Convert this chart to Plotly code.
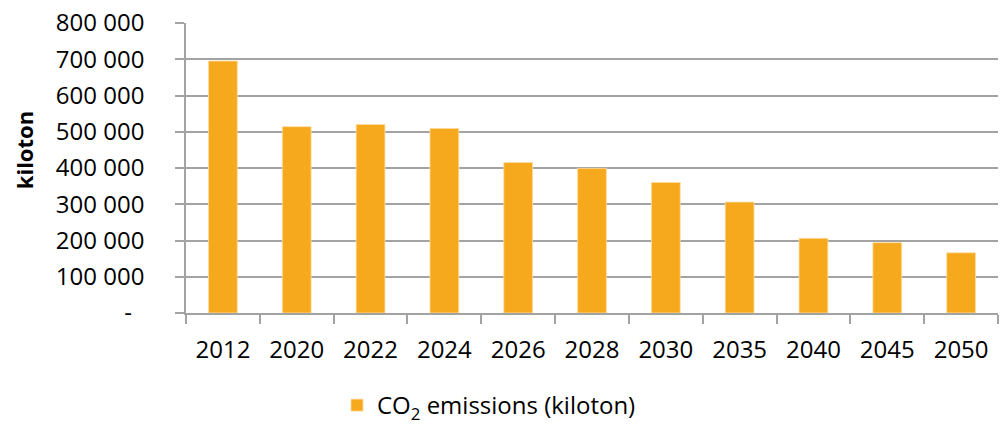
import plotly.graph_objects as go

years = ["2012", "2020", "2022", "2024", "2026", "2028", "2030", "2035", "2040", "2045", "2050"]
emissions = [695000, 514000, 520000, 509000, 415000, 399000, 360000, 306000, 206000, 194000, 166000]
y_tick_vals = [0, 100000, 200000, 300000, 400000, 500000, 600000, 700000, 800000]
y_tick_text = ["-\u00a0\u00a0", "100 000", "200 000", "300 000", "400 000", "500 000", "600 000", "700 000", "800 000"]
series_name = "CO<sub>2</sub> emissions (kiloton)"
y_title = "kiloton"

FONT = "Open Sans"
GRID = "#a3a3a3"

fig = go.Figure()
fig.add_trace(go.Bar(
    x=years, y=emissions, name=series_name,
    marker=dict(color="#F6A91D", line=dict(color="#FCDDA2", width=0.8)),
    showlegend=True,
))

fig.update_layout(
    width=1000, height=428,
    margin=dict(l=186, r=2, t=23, b=115, autoexpand=False),
    paper_bgcolor="white", plot_bgcolor="white",
    font=dict(family=FONT, size=24, color="#000000"),
    bargap=0.61,
    showlegend=True,
    legend=dict(orientation="h", xref="container", yref="container",
                x=0.337, xanchor="left", y=0.0, yanchor="bottom",
                font=dict(family=FONT, size=24, color="#000000"),
                bgcolor="rgba(0,0,0,0)"),
)
fig.update_xaxes(
    type="category", tickson="boundaries",
    showline=True, linecolor=GRID, linewidth=1.5,
    ticks="outside", ticklen=9, tickcolor=GRID, tickwidth=1.5,
    showgrid=False, ticklabelstandoff=14,
    tickfont=dict(family=FONT, size=24, color="#000000"),
)
fig.update_yaxes(
    range=[0, 800000], tickvals=y_tick_vals, ticktext=y_tick_text,
    showline=True, linecolor=GRID, linewidth=1.5,
    showgrid=True, gridcolor=GRID, gridwidth=1.5,
    zeroline=False,
    ticks="outside", ticklen=9, tickcolor=GRID, tickwidth=1.5,
    ticklabelstandoff=26,
    tickfont=dict(family=FONT, size=24, color="#000000"),
)
fig.add_annotation(
    text="<b>" + y_title + "</b>", xref="paper", yref="paper",
    x=-0.20, y=0.56, xanchor="center", yanchor="middle", textangle=-90,
    showarrow=False, font=dict(family=FONT, size=22, color="#000000"),
)
fig.write_html("out.html", config={"displayModeBar": False},
               post_script="document.body.style.margin='0';document.body.style.overflow='hidden';")
